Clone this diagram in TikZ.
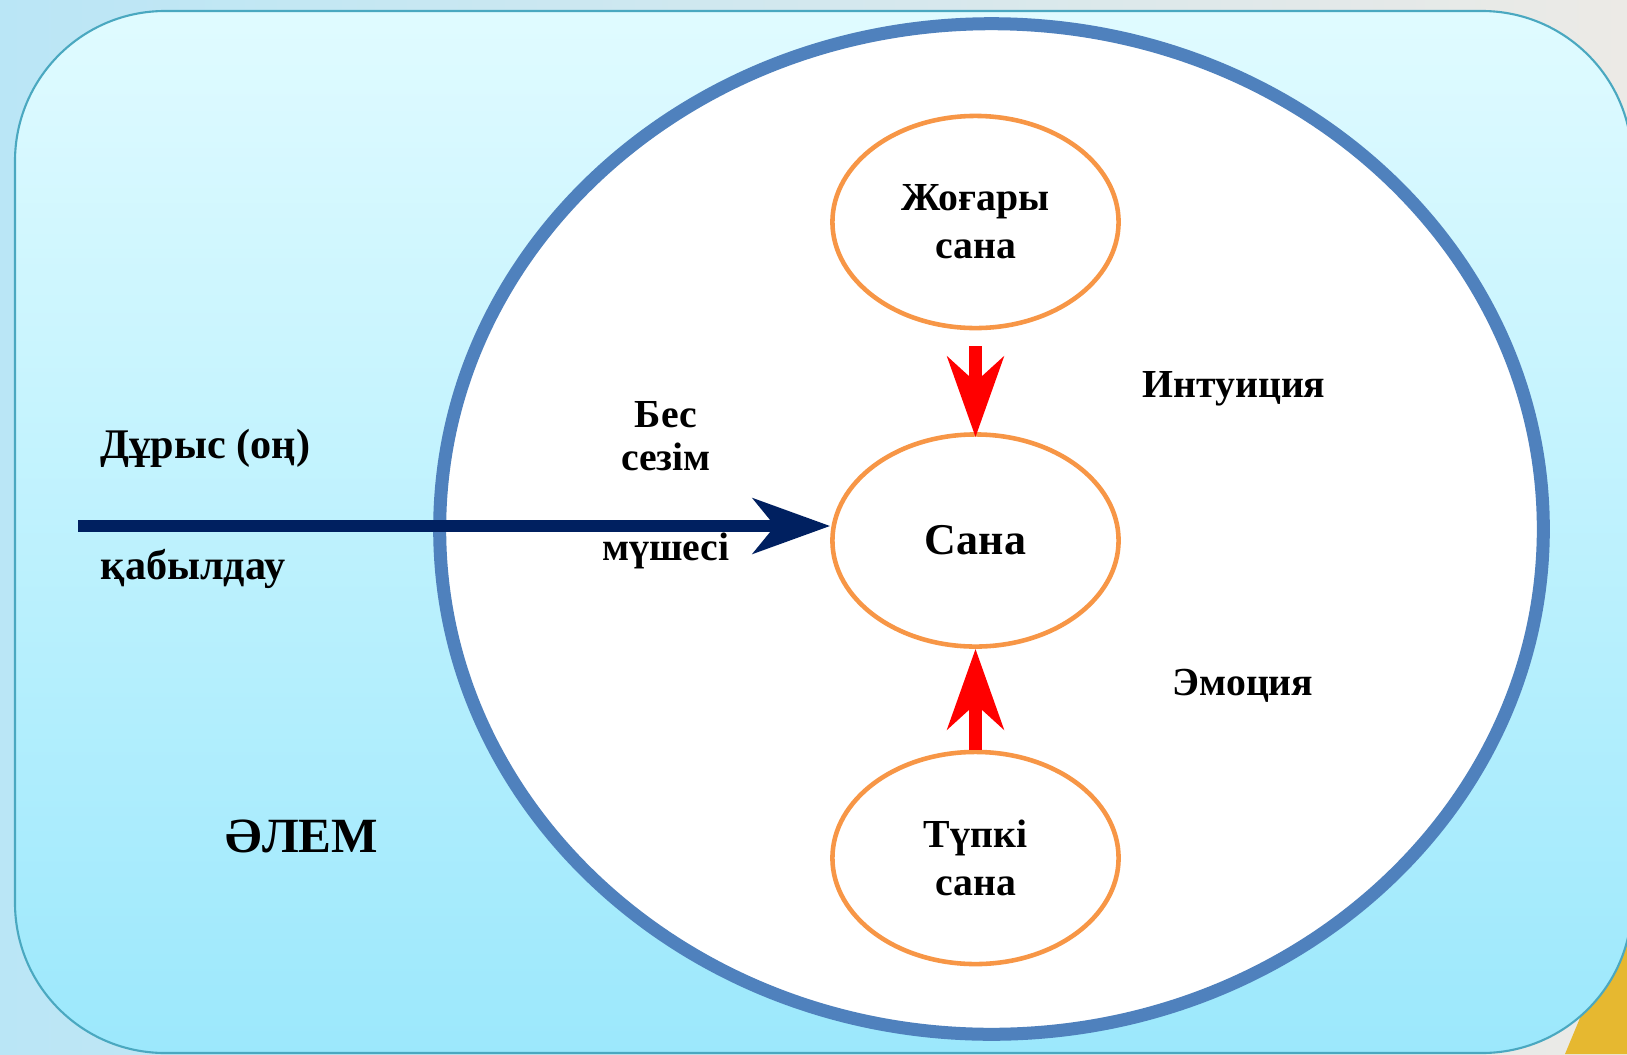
\documentclass[tikz,border=0pt]{standalone}
\usepackage{fontspec}
\setmainfont{Liberation Serif}
\usetikzlibrary{arrows.meta,positioning,shapes.geometric}
\definecolor{framecyan}{RGB}{74,168,192}
\definecolor{skytop}{RGB}{224,251,255}
\definecolor{skybottom}{RGB}{156,232,252}
\definecolor{bgblue}{RGB}{186,230,246}
\definecolor{bgpaper}{RGB}{236,234,230}
\definecolor{sunyellow}{RGB}{230,184,48}
\definecolor{ringblue}{RGB}{79,129,189}
\definecolor{ovalorange}{RGB}{247,150,70}
\definecolor{arrownavy}{RGB}{0,32,96}
\tikzset{
  oval/.style={ellipse,draw=ovalorange,line width=1.3pt,fill=white,minimum width=2.86cm,minimum height=2.12cm,inner sep=0pt,align=center,font=\fontsize{11.3}{13.7}\selectfont\bfseries},
  lbl/.style={inner sep=0pt,align=center,font=\fontsize{11.3}{12.2}\selectfont\bfseries},
  redarrow/.style={-{Stealth[length=0.8cm,width=0.56cm,inset=0.25cm]},red,line width=0.127cm},
  navyarrow/.style={-{Stealth[length=0.77cm,width=0.55cm,inset=0.22cm]},arrownavy,line width=0.12cm}
}
\begin{document}
\begin{tikzpicture}[x=0.01cm,y=-0.01cm]
\useasboundingbox (0,0) rectangle (1627,1054);
\shade[left color=bgblue,right color=bgpaper] (0,0) rectangle (1627,1054);
\fill[sunyellow] (1565,1054) -- (1627,905) -- (1627,1054) -- cycle;
\path[draw=framecyan,line width=0.6pt,top color=skytop,bottom color=skybottom,rounded corners=1.5cm] (15,11) rectangle (1632,1053);
\draw[ringblue,line width=0.13cm,fill=white] (991.5,529) ellipse [x radius=5.515cm,y radius=5.05cm];
\node[oval] (upper) at (975.5,222) {Жоғары\\сана};
\node[oval,font=\fontsize{12.5}{14}\selectfont\bfseries] (mind) at (975.5,540.5) {Сана};
\node[oval] (lower) at (975.5,858) {Түпкі\\сана};
\draw[redarrow,shorten <=0.16cm,shorten >=-0.05cm] (upper) -- (mind);
\draw[redarrow] (lower) -- (mind);
\coordinate (src) at (78,526);
\draw[navyarrow] (src) -- (src -| mind.west);
\node[lbl,anchor=base west,font=\fontsize{12}{13}\selectfont\bfseries] (right) at (100,458) {Дұрыс (оң)};
\node[lbl,font=\fontsize{12}{13}\selectfont\bfseries] (percept) [below=1.21cm of right.base west,anchor=base west] {қабылдау};
\node[lbl,anchor=base,font=\fontsize{14}{15}\selectfont\bfseries] (world) at (302,852) {ӘЛЕМ};
\node[lbl,anchor=base] (senses) at (666,470) {Бес\\сезім};
\node[lbl,anchor=base] (organ) at (666,560) {мүшесі};
\node[lbl,anchor=base] (intuition) at (1234,397) {Интуиция};
\node[lbl,anchor=base] (emotion) at (1243,695) {Эмоция};
\end{tikzpicture}
\end{document}
